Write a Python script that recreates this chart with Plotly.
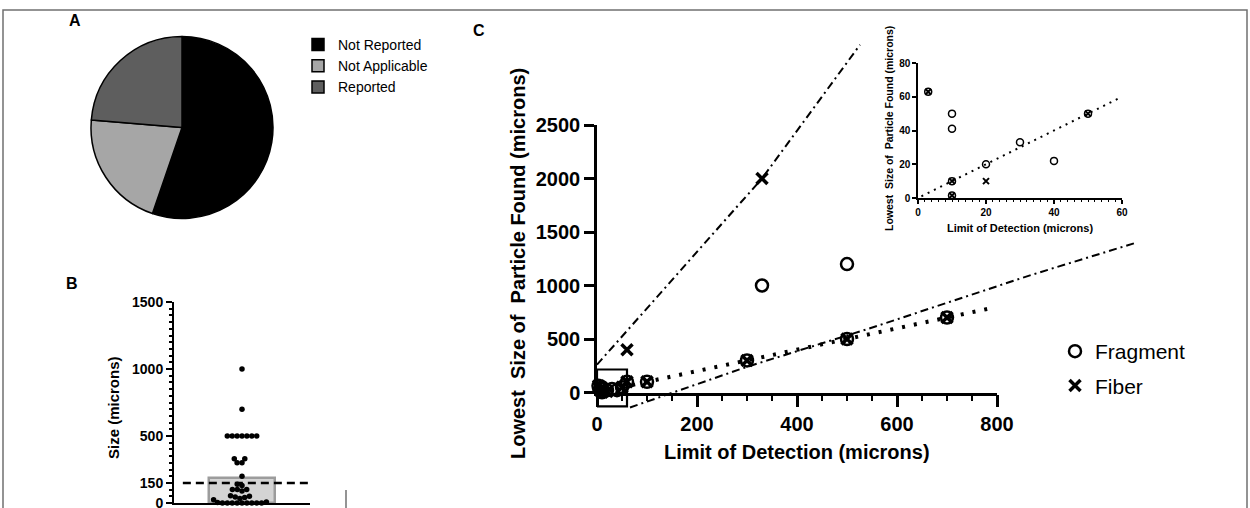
import numpy as np
import plotly.graph_objects as go

W, H = 1250, 508
FONT = "Liberation Sans, Arial, sans-serif"


def fx(px):
    return px / W


def fy(py):
    return 1 - py / H


# ---------------- data ----------------
# Panel A
pie_labels = ["Not Reported", "Not Applicable", "Reported"]
pie_values = [21, 8, 9]
pie_colors = ["#000000", "#a6a6a6", "#5e5e5e"]

# Panel B (size of smallest particle, microns)
b_sizes = [0, 0, 0, 0, 0, 0, 0, 0, 0, 3, 8,
           25, 33, 41, 45, 50, 55,
           90, 100, 100, 100,
           130, 140,
           200,
           300, 300, 330, 330,
           500, 500, 500, 500, 500, 500, 500,
           700, 1000]
b_bar_value = 187
b_threshold = 150
b_ticks = [0, 150, 500, 1000, 1500]

# Panel C
c_frag_x = [3, 10, 10, 10, 10, 20, 30, 40, 50, 60, 100, 300, 500, 700, 330, 500]
c_frag_y = [63, 50, 41, 10, 1.5, 20, 33, 22, 50, 100, 100, 300, 500, 700, 1000, 1200]
c_fiber_x = [3, 10, 10, 20, 50, 60, 100, 300, 500, 700, 60, 330]
c_fiber_y = [63, 10, 1.5, 10, 50, 100, 100, 300, 500, 700, 400, 2000]
c_identity_x = [0, 790]
c_upper_band_x = [0, 330, 526]
c_upper_band_y = [260, 2000, 3250]
c_lower_band_x = [66, 300, 546, 866, 1076]
c_lower_band_y = [-140, 240, 600, 1095, 1397]
c_box_x = [0, 60]
c_box_y = [-130, 215]
c_x_range = [0, 800]
c_y_range = [0, 2500]
inset_x_range = [0, 60]
inset_y_range = [0, 80]
inset_identity_x = [1, 59]

fig = go.Figure()

# ---------------- Panel A: pie ----------------
fig.add_trace(go.Pie(
    labels=pie_labels, values=pie_values, sort=False, direction="clockwise",
    rotation=0, textinfo="none",
    marker=dict(colors=pie_colors, line=dict(color="black", width=1.5)),
    domain=dict(x=[fx(91), fx(273)], y=[fy(219), fy(36)]),
    legend="legend",
))

# ---------------- Panel B: bar + beeswarm ----------------
B_X0, B_X1, B_Y0, B_Y1 = 174, 310, 503, 302
b_range_y = [0, 1500]
b_range_x = [-1, 1]
sy = (B_Y0 - B_Y1) / (b_range_y[1] - b_range_y[0])
sx = (B_X1 - B_X0) / (b_range_x[1] - b_range_x[0])


def beeswarm(values, scale_y, d):
    vals = np.asarray(values, dtype=float)
    idx = np.argsort(vals, kind="stable")
    placed = []
    xs = np.zeros(len(vals))
    for i in idx:
        y = vals[i] * scale_y
        cands = [0.0]
        for (px_, py_) in placed:
            dy = abs(py_ - y)
            if dy < d:
                dx = np.sqrt(d * d - dy * dy)
                cands += [px_ + dx, px_ - dx]
        cands.sort(key=lambda c: (abs(c), c))
        for c in cands:
            if all((c - px_) ** 2 + (y - py_) ** 2 >= d * d - 1e-6 for px_, py_ in placed):
                xs[i] = c
                placed.append((c, y))
                break
    return xs


b_off_px = beeswarm(b_sizes, sy, 4.9)
b_x = b_off_px / sx

fig.add_trace(go.Bar(
    x=[0], y=[b_bar_value], width=0.97, xaxis="x", yaxis="y",
    marker=dict(color="#d4d4d4", line=dict(color="#9c9c9c", width=2.5)),
    showlegend=False, hoverinfo="y",
))
fig.add_trace(go.Scatter(
    x=b_x, y=b_sizes, mode="markers", xaxis="x", yaxis="y",
    marker=dict(size=5.5, color="black"), cliponaxis=False, showlegend=False,
))

# ---------------- Panel C ----------------
CX0, CX1, CY0, CY1 = 597, 997, 392.5, 125
ux = (c_x_range[1] - c_x_range[0]) / (CX1 - CX0)
uy = (c_y_range[1] - c_y_range[0]) / (CY0 - CY1)
OX0, OX1, OY0, OY1 = 597, 1190, 430, 12
ov_x_range = [c_x_range[0] + (OX0 - CX0) * ux, c_x_range[0] + (OX1 - CX0) * ux]
ov_y_range = [c_y_range[0] + (CY0 - OY0) * uy, c_y_range[0] + (CY0 - OY1) * uy]

dashdot = "8px,4px,2px,4px"
fig.add_trace(go.Scatter(
    x=c_upper_band_x, y=c_upper_band_y, mode="lines", xaxis="x3", yaxis="y3",
    line=dict(color="black", width=2, dash=dashdot), showlegend=False, hoverinfo="skip",
))
fig.add_trace(go.Scatter(
    x=c_lower_band_x, y=c_lower_band_y, mode="lines", xaxis="x3", yaxis="y3",
    line=dict(color="black", width=2, dash=dashdot), showlegend=False, hoverinfo="skip",
))
fig.add_trace(go.Scatter(
    x=[c_box_x[0], c_box_x[1], c_box_x[1], c_box_x[0], c_box_x[0]],
    y=[c_box_y[0], c_box_y[0], c_box_y[1], c_box_y[1], c_box_y[0]],
    mode="lines", xaxis="x3", yaxis="y3",
    line=dict(color="black", width=2.2), showlegend=False, hoverinfo="skip",
))
fig.add_trace(go.Scatter(
    x=c_identity_x, y=c_identity_x, mode="lines", xaxis="x2", yaxis="y2",
    line=dict(color="black", width=4, dash="3px,9px"), showlegend=False, hoverinfo="skip",
))
fig.add_trace(go.Scatter(
    x=c_frag_x, y=c_frag_y, mode="markers", name="Fragment", xaxis="x2", yaxis="y2",
    marker=dict(symbol="circle-open", size=12, color="black", line=dict(width=2.5)),
    cliponaxis=False, legend="legend2", legendgroup="frag",
))
fig.add_trace(go.Scatter(
    x=c_fiber_x, y=c_fiber_y, mode="markers", name="Fiber", xaxis="x2", yaxis="y2",
    marker=dict(symbol="x-thin", size=11, color="black", line=dict(width=3.5, color="black")),
    cliponaxis=False, legend="legend2", legendgroup="fiber",
))


# inset
def in_inset(xs, ys):
    pts = [(a, b) for a, b in zip(xs, ys)
           if inset_x_range[0] <= a <= inset_x_range[1] and inset_y_range[0] <= b <= inset_y_range[1]]
    return [p[0] for p in pts], [p[1] for p in pts]


ifx, ify = in_inset(c_frag_x, c_frag_y)
ibx, iby = in_inset(c_fiber_x, c_fiber_y)
fig.add_trace(go.Scatter(
    x=inset_identity_x, y=inset_identity_x, mode="lines", xaxis="x4", yaxis="y4",
    line=dict(color="black", width=2, dash="2px,5px"), showlegend=False, hoverinfo="skip",
))
fig.add_trace(go.Scatter(
    x=ifx, y=ify, mode="markers", xaxis="x4", yaxis="y4", showlegend=False,
    marker=dict(symbol="circle-open", size=7, color="black", line=dict(width=1.5)),
    cliponaxis=False,
))
fig.add_trace(go.Scatter(
    x=ibx, y=iby, mode="markers", xaxis="x4", yaxis="y4", showlegend=False,
    marker=dict(symbol="x-thin", size=6, color="black", line=dict(width=2, color="black")),
    cliponaxis=False,
))

axis_common = dict(showgrid=False, zeroline=False, showline=True, linecolor="black",
                   ticks="outside", tickcolor="black", automargin=False,
                   ticklabeloverflow="allow")

fig.update_layout(
    template="none",
    width=W, height=H, margin=dict(l=0, r=0, t=0, b=0, pad=0, autoexpand=False),
    paper_bgcolor="white", plot_bgcolor="rgba(0,0,0,0)",
    font=dict(family=FONT, color="black"),
    bargap=0,
    xaxis=dict(domain=[fx(B_X0), fx(B_X1)], range=b_range_x, anchor="y",
               showgrid=False, zeroline=False, showline=True, linecolor="black",
               linewidth=2, showticklabels=False, ticks="", automargin=False),
    yaxis=dict(domain=[fy(B_Y0), fy(B_Y1)], range=b_range_y, anchor="x",
               tickmode="array", tickvals=b_ticks, ticklen=6, tickwidth=2, linewidth=2,
               tickfont=dict(size=14, weight="bold"),
               minor=dict(dtick=50, tick0=0, ticklen=3, tickwidth=1.5, ticks="outside",
                          tickcolor="black"),
               **axis_common),
    xaxis2=dict(domain=[fx(CX0), fx(CX1)], range=c_x_range, anchor="y2", dtick=200,
                ticklen=12, tickwidth=2.5, linewidth=2.5,
                tickfont=dict(size=20, weight="bold"),
                minor=dict(dtick=50, ticklen=6, tickwidth=2, ticks="outside", tickcolor="black"),
                **axis_common),
    yaxis2=dict(domain=[fy(CY0), fy(CY1)], range=c_y_range, anchor="x2", dtick=500,
                ticklen=10, tickwidth=2.5, linewidth=2.5,
                tickfont=dict(size=20, weight="bold"),
                **axis_common),
    xaxis3=dict(domain=[fx(OX0), fx(OX1)], range=ov_x_range, anchor="y3", visible=False,
                automargin=False),
    yaxis3=dict(domain=[fy(OY0), fy(OY1)], range=ov_y_range, anchor="x3", visible=False,
                automargin=False),
    xaxis4=dict(domain=[fx(918), fx(1122)], range=inset_x_range, anchor="y4", dtick=20,
                ticklen=4, tickwidth=1.5, linewidth=1.5,
                tickfont=dict(size=10, weight="bold"),
                minor=dict(dtick=2, ticklen=2, tickwidth=1, ticks="outside", tickcolor="black"),
                **axis_common),
    yaxis4=dict(domain=[fy(198), fy(63)], range=inset_y_range, anchor="x4", dtick=20,
                ticklen=4, tickwidth=1.5, linewidth=1.5,
                tickfont=dict(size=10, weight="bold"),
                **axis_common),
    legend=dict(x=fx(298), y=fy(29), xanchor="left", yanchor="top",
                font=dict(size=14, family=FONT), bgcolor="rgba(0,0,0,0)",
                tracegroupgap=0, itemclick=False),
    legend2=dict(x=fx(1055), y=fy(331), xanchor="left", yanchor="top",
                 font=dict(size=21, family=FONT), bgcolor="rgba(0,0,0,0)",
                 tracegroupgap=4),
)

# Panel B threshold line
fig.add_shape(type="line", xref="x", yref="y", x0=-0.87, x1=1.0, y0=b_threshold, y1=b_threshold,
              line=dict(color="black", width=2.5, dash="8px,5px"))

# figure frame
fig.add_shape(type="rect", xref="paper", yref="paper", x0=fx(3), x1=fx(1247), y0=fy(530), y1=fy(10),
              line=dict(color="#707070", width=1.5))
fig.add_shape(type="line", xref="paper", yref="paper", x0=fx(346), x1=fx(346), y0=fy(508), y1=fy(490),
              line=dict(color="#707070", width=1.5))

ann = []


def label(txt, px, py, size, weight="bold", angle=0):
    ann.append(dict(text=txt, x=fx(px), y=fy(py), xref="paper", yref="paper",
                    showarrow=False, xanchor="center", yanchor="middle", textangle=angle,
                    font=dict(size=size, family=FONT, weight=weight, color="black")))


label("A", 75, 20, 16)
label("B", 72, 283, 16)
label("C", 479, 30, 16)
label("Size (microns)", 113, 407, 15, angle=-90)
label("Limit of Detection (microns)", 797, 452, 20)
label("Lowest  Size of  Particle Found (microns)", 518, 264, 20, angle=-90)
label("Limit of Detection (microns)", 1020, 228, 11)
label("Lowest  Size of  Particle Found (microns)", 889, 129, 10.5, angle=-90)
fig.update_layout(annotations=ann)

fig.write_html(
    "out.html",
    config={"displayModeBar": False},
    post_script="document.body.style.margin='0px';document.body.style.overflow='hidden';",
)
